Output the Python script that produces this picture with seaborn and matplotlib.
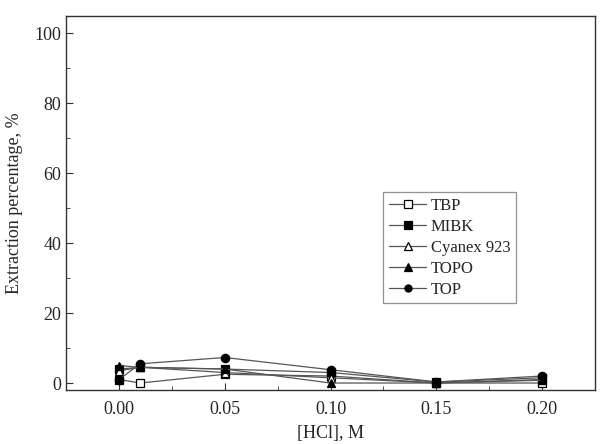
import matplotlib
matplotlib.use("Agg")
import matplotlib.pyplot as plt
from matplotlib.ticker import MultipleLocator
import seaborn as sns
import pandas as pd

sns.set_style("ticks")
plt.rcParams["font.family"] = ["Liberation Serif", "DejaVu Serif"]

# HCl concentration, M
hcl = [0.00, 0.01, 0.05, 0.10, 0.15, 0.20]

# extraction percentage for each extractant
tbp = [1.0, 0.0, 2.5, 2.0, 0.0, 0.0]
mibk = [4.0, 4.5, 4.0, 3.0, 0.3, 1.5]
cyanex = [3.5, 4.5, 3.0, 1.5, 0.0, 0.8]
topo = [5.0, 4.5, 4.0, 0.0, 0.0, 1.0]
top = [1.0, 5.5, 7.3, 3.8, 0.3, 2.0]

names = ["TBP", "MIBK", "Cyanex 923", "TOPO", "TOP"]
series = [tbp, mibk, cyanex, topo, top]
markers = ["s", "s", "^", "^", "o"]
faces = ["white", "black", "white", "black", "black"]

fig = plt.figure(figsize=(6.01, 4.44), dpi=100)
ax = fig.add_axes([0.110, 0.1216, 0.880, 0.8424])

for name, vals, m, fc in zip(names, series, markers, faces):
    df = pd.DataFrame({"x": hcl, "y": vals})
    sns.lineplot(data=df, x="x", y="y", ax=ax, color="#555555", lw=0.9,
                 marker=m, markersize=6, markerfacecolor=fc,
                 markeredgecolor="black", markeredgewidth=0.9, label=name)

ax.set_xlim(-0.025, 0.225)
ax.set_ylim(-2, 105)
ax.set_xticks([0.00, 0.05, 0.10, 0.15, 0.20])
ax.set_xticklabels(["0.00", "0.05", "0.10", "0.15", "0.20"])
ax.set_yticks([0, 20, 40, 60, 80, 100])
ax.xaxis.set_minor_locator(MultipleLocator(0.025))
ax.yaxis.set_minor_locator(MultipleLocator(10))
ax.tick_params(which="both", direction="in", labelsize=13, color="#333333")
ax.tick_params(axis="x", pad=8)
ax.tick_params(which="major", length=5)
ax.tick_params(which="minor", length=3)
for s in ax.spines.values():
    s.set_color("#333333")
    s.set_linewidth(1.0)

ax.set_xlabel("[HCl], M", fontsize=13, labelpad=5)
ax.set_ylabel("Extraction percentage, %", fontsize=13, labelpad=8)

leg = ax.legend(loc="upper left", bbox_to_anchor=(0.60, 0.53), fontsize=12,
                frameon=True, fancybox=False, edgecolor="#777777",
                handlelength=2.2, handletextpad=0.3, labelspacing=0.3,
                borderpad=0.35, borderaxespad=0, markerscale=0.85)
leg.get_frame().set_linewidth(0.9)

fig.savefig("out.png", dpi=100)
